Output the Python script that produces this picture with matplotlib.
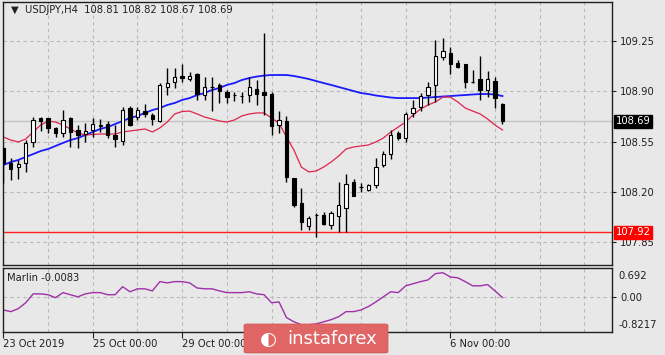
import numpy as np
import matplotlib
matplotlib.use("Agg")
import matplotlib.pyplot as plt
from matplotlib.patches import FancyBboxPatch
import matplotlib.transforms as mtransforms

# USDJPY H4 candles, 23 Oct 2019 00:00 onwards
opens = [108.505, 108.401, 108.373, 108.401, 108.547, 108.713, 108.713, 108.644, 108.609, 108.713,
         108.630, 108.602, 108.630, 108.657, 108.671, 108.595, 108.553, 108.782, 108.720, 108.761,
         108.734, 108.692, 108.928, 108.962, 109.004, 108.983, 109.018, 108.872, 108.928, 108.942,
         108.893, 108.872, 108.864, 108.872, 108.914, 108.893, 108.879, 108.664, 108.692, 108.297,
         108.124, 107.964, 108.041, 108.041, 107.971, 108.034, 108.089, 108.269, 108.235, 108.214,
         108.248, 108.387, 108.463, 108.609, 108.574, 108.748, 108.789, 108.872, 108.942, 109.136,
         109.163, 109.094, 109.087, 108.962, 108.983, 108.907, 108.969, 108.81]
highs = [108.512, 108.436, 108.422, 108.560, 108.720, 108.720, 108.716, 108.648, 108.768, 108.720,
         108.664, 108.678, 108.713, 108.706, 108.692, 108.664, 108.789, 108.796, 108.789, 108.810,
         108.748, 108.955, 109.059, 109.059, 109.087, 109.032, 109.025, 108.997, 108.997, 108.955,
         108.907, 108.893, 108.893, 108.997, 108.976, 109.302, 108.893, 108.761, 108.727, 108.300,
         108.228, 108.034, 108.054, 108.061, 108.068, 108.269, 108.325, 108.290, 108.262, 108.255,
         108.436, 108.484, 108.630, 108.623, 108.754, 108.838, 108.886, 108.962, 109.254, 109.267,
         109.205, 109.115, 109.090, 109.046, 109.143, 109.039, 108.997, 108.82]
lows = [108.262, 108.283, 108.290, 108.339, 108.512, 108.623, 108.609, 108.581, 108.581, 108.512,
        108.505, 108.547, 108.581, 108.616, 108.574, 108.512, 108.526, 108.660, 108.699, 108.720,
        108.664, 108.685, 108.872, 108.921, 108.962, 108.969, 108.838, 108.838, 108.761, 108.817,
        108.817, 108.831, 108.817, 108.824, 108.803, 108.734, 108.595, 108.609, 108.269, 108.096,
        107.937, 107.937, 107.888, 107.971, 107.944, 107.923, 107.923, 108.172, 108.200, 108.207,
        108.228, 108.373, 108.429, 108.560, 108.547, 108.720, 108.761, 108.803, 108.824, 109.115,
        109.018, 109.059, 108.921, 108.955, 108.838, 108.858, 108.782, 108.67]
closes = [108.401, 108.359, 108.394, 108.540, 108.699, 108.692, 108.644, 108.609, 108.699, 108.616,
          108.595, 108.623, 108.671, 108.664, 108.595, 108.567, 108.768, 108.664, 108.768, 108.741,
          108.706, 108.942, 108.955, 108.997, 108.990, 109.004, 108.879, 108.928, 108.926, 108.900,
          108.858, 108.870, 108.866, 108.928, 108.879, 108.872, 108.657, 108.699, 108.304, 108.110,
          107.992, 108.020, 108.043, 107.978, 108.054, 108.110, 108.255, 108.172, 108.233, 108.248,
          108.373, 108.463, 108.595, 108.574, 108.741, 108.782, 108.865, 108.928, 109.143, 109.177,
          109.087, 109.066, 108.962, 108.960, 108.907, 108.983, 108.851, 108.69]

ma_slow = [108.387, 108.408, 108.422, 108.443, 108.463, 108.484, 108.498, 108.519, 108.540, 108.560,
           108.574, 108.595, 108.616, 108.637, 108.650, 108.671, 108.692, 108.713, 108.727, 108.748,
           108.768, 108.782, 108.803, 108.817, 108.838, 108.851, 108.872, 108.886, 108.907, 108.921,
           108.942, 108.955, 108.976, 108.990, 109.000, 109.007, 109.011, 109.011, 109.011, 109.004,
           108.994, 108.983, 108.969, 108.955, 108.942, 108.928, 108.914, 108.900, 108.886, 108.879,
           108.869, 108.862, 108.855, 108.851, 108.851, 108.851, 108.851, 108.855, 108.858, 108.862,
           108.865, 108.869, 108.872, 108.876, 108.879, 108.879, 108.876, 108.865]
ma_fast = [108.581, 108.560, 108.547, 108.567, 108.616, 108.664, 108.692, 108.685, 108.664, 108.637,
           108.609, 108.595, 108.599, 108.602, 108.602, 108.602, 108.616, 108.623, 108.630, 108.637,
           108.616, 108.644, 108.685, 108.741, 108.758, 108.761, 108.741, 108.720, 108.706, 108.692,
           108.685, 108.699, 108.727, 108.741, 108.748, 108.748, 108.713, 108.678, 108.581, 108.491,
           108.373, 108.339, 108.346, 108.373, 108.408, 108.449, 108.498, 108.512, 108.519, 108.526,
           108.547, 108.574, 108.616, 108.650, 108.685, 108.734, 108.775, 108.803, 108.824, 108.858,
           108.858, 108.824, 108.782, 108.761, 108.741, 108.706, 108.664, 108.630]

marlin = [-0.30, -0.34, -0.27, -0.13, 0.08, 0.08, 0.06, -0.01, 0.11, 0.06,
          0.01, 0.08, 0.11, 0.11, 0.06, 0.06, 0.25, 0.13, 0.20, 0.20,
          0.15, 0.37, 0.34, 0.37, 0.37, 0.34, 0.22, 0.20, 0.20, 0.15,
          0.11, 0.11, 0.11, 0.13, 0.08, 0.06, -0.13, -0.11, -0.48, -0.58,
          -0.65, -0.65, -0.63, -0.58, -0.53, -0.46, -0.34, -0.34, -0.30, -0.22,
          -0.11, 0.01, 0.13, 0.11, 0.27, 0.32, 0.37, 0.41, 0.56, 0.58,
          0.48, 0.46, 0.37, 0.27, 0.27, 0.30, 0.15, -0.0083]

price_ticks = [107.85, 108.20, 108.55, 108.90, 109.25]
date_ticks = [0, 12, 24, 60]
date_labels = ["23 Oct 2019", "25 Oct 00:00", "29 Oct 00:00", "6 Nov 00:00"]
support = 107.92
bid = 108.69

BG = "#e8e8e8"
GRID = "#b8b8b8"
FS = 7.2

W, H = 665, 355
fig = plt.figure(figsize=(W / 100, H / 100), dpi=100, facecolor=BG)
ax = fig.add_axes([3 / W, 1 - 265 / H, 609 / W, 263 / H], facecolor=BG)
osc = fig.add_axes([3 / W, 1 - 332 / H, 609 / W, 64 / H], facecolor=BG)

x = np.arange(len(opens))
o = np.array(opens); c = np.array(closes)

# grid
for a in (ax, osc):
    for v in range(0, 84, 6):
        a.axvline(v, color=GRID, lw=0.8, ls=(0, (3, 3)), zorder=0)
for p in price_ticks:
    ax.axhline(p, color=GRID, lw=0.8, ls=(0, (3, 3)), zorder=0)
osc.axhline(0, color=GRID, lw=0.8, ls=(0, (3, 3)), zorder=0)

ax.axhline(bid, color="#c4c4c4", lw=1.0, zorder=1)
ax.axhline(support, color="#ff2020", lw=1.0, zorder=1)

# candles
ax.vlines(x, lows, highs, color="black", lw=1.0, zorder=3)
up = c >= o
bottoms = np.minimum(o, c)
heights = np.maximum(np.abs(c - o), 0.0005)
ax.bar(x[up], heights[up], bottom=bottoms[up], width=0.45, color="white",
       edgecolor="black", lw=0.8, zorder=4)
ax.bar(x[~up], heights[~up], bottom=bottoms[~up], width=0.45, color="black",
       edgecolor="black", lw=0.8, zorder=4)

ax.plot(x, ma_slow, color="#1a1aff", lw=1.3, zorder=2)
ax.plot(x, ma_fast, color="#e0244c", lw=0.9, zorder=2)

ax.set_xlim(-0.05, 81.7)
ax.set_ylim(107.694, 109.517)
ax.yaxis.tick_right()
ax.set_yticks(price_ticks)
ax.set_yticklabels([f"{p:.2f}" for p in price_ticks])
ax.tick_params(axis="y", length=3, width=0.8, pad=3, labelsize=FS, colors="#202020")
ax.set_xticks([])
for s in ax.spines.values():
    s.set_color("#202020"); s.set_linewidth(1.0)

tr = mtransforms.blended_transform_factory(ax.transAxes, ax.transData)
ax.text(1.006, bid, f"{bid:.2f}", transform=tr, fontsize=FS, color="white", va="center",
        ha="left", bbox=dict(boxstyle="square,pad=0.15", fc="black", ec="black"), clip_on=False)
ax.text(1.006, support, f"{support:.2f}", transform=tr, fontsize=FS, color="white", va="center",
        ha="left", bbox=dict(boxstyle="square,pad=0.15", fc="#ff0000", ec="#ff0000"), clip_on=False)

ax.text(8 / 609, 1 - 8 / 263, "\u25bc  USDJPY,H4  108.81 108.82 108.67 108.69", transform=ax.transAxes,
        fontsize=FS, color="#202020", va="center", ha="left")

# oscillator
osc.plot(x, marlin, color="#a030a8", lw=1.0)
osc.set_xlim(-0.05, 81.7)
osc.set_ylim(-0.8217, 0.692)
osc.yaxis.tick_right()
osc.set_yticks([0])
osc.set_yticklabels(["0.00"])
osc.tick_params(axis="y", length=3, width=0.8, pad=3, labelsize=FS, colors="#202020")
osc.text(1.01, 1 - 8 / 64, "0.692", transform=osc.transAxes, fontsize=FS, color="#202020", va="center")
osc.text(1.01, 7 / 64, "-0.8217", transform=osc.transAxes, fontsize=FS, color="#202020", va="center")
osc.set_xticks(date_ticks)
osc.set_xticklabels(date_labels, ha="left")
osc.tick_params(axis="x", length=4, width=0.8, pad=1, labelsize=FS, colors="#202020")
for s in osc.spines.values():
    s.set_color("#202020"); s.set_linewidth(1.0)
osc.text(4 / 609, 1 - 10 / 64, "Marlin -0.0083", transform=osc.transAxes, fontsize=FS,
         color="#202020", va="center", ha="left")

# watermark
box = FancyBboxPatch((244 / W, 1 - 353 / H), 144 / W, 29 / H, boxstyle="round,pad=0,rounding_size=0.004",
                     transform=fig.transFigure, fc="#e06666", ec="#d05555", lw=0.5, zorder=10)
fig.patches.append(box)
fig.text(332 / W, 1 - 339 / H, "instaforex", fontsize=13, color="white", ha="center", va="center", zorder=11)
fig.text(268 / W, 1 - 339 / H, "\u25d0", fontsize=14, color="white", ha="center", va="center", zorder=11)

fig.savefig("out.png", dpi=100, facecolor=BG)
